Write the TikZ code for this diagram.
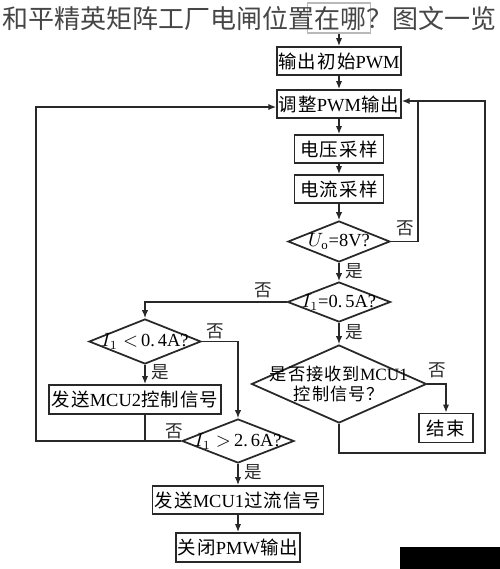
\documentclass[tikz,border=0pt]{standalone}
\usepackage{fontspec}
\setmainfont{Liberation Serif}
\newfontfamily\cjk[LetterSpace=6]{Noto Sans CJK SC}
\newfontfamily\cjkplain{Noto Sans CJK SC}
\usetikzlibrary{arrows.meta,shapes.geometric,positioning,calc}
\definecolor{inkgray}{RGB}{40,40,40}
\definecolor{titlegray}{RGB}{70,70,70}
\newcommand{\zh}[1]{{\cjk #1}}

\begin{document}
\begin{tikzpicture}[x=0.02cm,y=-0.02cm,font=\fontsize{10.5pt}{12.5pt}\selectfont,>={Latex[length=4.5pt,width=3.6pt]},
  procbox/.style={draw=inkgray,line width=1.1pt,minimum height=0.56cm,inner sep=1pt},
  decbox/.style={draw=inkgray,line width=1pt,diamond,inner sep=0pt},
  flow/.style={draw=inkgray,line width=0.8pt},
  yesno/.style={font=\fontsize{10pt}{12pt}\selectfont\cjkplain,text=inkgray}]
  \useasboundingbox (0,0) rectangle (500,569);
  % start box, mostly hidden under the title
  \node[draw=gray!55,line width=0.8pt,minimum width=1.26cm,minimum height=0.6cm] (start) at (339,18) {};
  \node[text=titlegray,font=\fontsize{14.8pt}{16pt}\selectfont\cjkplain,inner sep=0pt] (title) at (249.5,19)
    {和平精英矩阵工厂电闸位置在哪？图文一览};
  % main column
  \node[procbox,minimum width=2.38cm] (init)   at (339,61)  {\zh{输出初始}PWM};
  \node[procbox,minimum width=2.38cm] (adjust) at (339,104) {\zh{调整}PWM\zh{输出}};
  \node[procbox,minimum width=1.78cm] (vsamp)  at (339,149) {\zh{电压采样}};
  \node[procbox,minimum width=1.78cm] (isamp)  at (339,189) {\zh{电流采样}};
  \node[decbox,minimum width=2.04cm,minimum height=0.82cm,label={center:$U_{\mathrm{o}}$=8V?}] (chkU) at (339,241.5) {};
  \node[decbox,minimum width=2.06cm,minimum height=0.8cm,label={center:$I_{1}$=0.\,5A?}] (chkI) at (339,302) {};
  \node[decbox,minimum width=3.5cm,minimum height=1.56cm,
        label={[align=center,font=\fontsize{9.8pt}{11.5pt}\selectfont]center:\zh{是否接收到}MCU1\\\zh{控制信号？}}] (chkRecv) at (339,384) {};
  \node[procbox,minimum width=1.08cm,minimum height=0.58cm] (stop) at (446,428) {\zh{结束}};
  % left branch
  \node[decbox,minimum width=2.24cm,minimum height=0.9cm,label={center:$I_{1}<$\,0.\,4A?}] (chkLow) at (145,341.5) {};
  \node[procbox,minimum width=3.44cm,minimum height=0.58cm] (mcuTwo) at (135,399.5) {\zh{发送}MCU2\zh{控制信号}};
  \node[decbox,minimum width=2.24cm,minimum height=0.88cm,label={center:$I_{1}>$\,2.\,6A?}] (chkHigh) at (238,441) {};
  \node[procbox,minimum width=3.42cm] (mcuOne) at (238,500) {\zh{发送}MCU1\zh{过流信号}};
  \node[procbox,minimum width=2.42cm,minimum height=0.58cm] (pwmOff) at (238,547.5) {\zh{关闭}PMW\zh{输出}};
  % loop corners
  \coordinate (jR)    at (418,101);
  \coordinate (loopR) at (485,453);
  \coordinate (loopL) at (36,441);

  \draw[flow,->] (start) -- (init);
  \draw[flow,->] (init) -- (adjust);
  \draw[flow,->] (adjust) -- (vsamp);
  \draw[flow,->] (vsamp) -- (isamp);
  \draw[flow,->] (isamp) -- (chkU);
  \draw[flow,->] (chkU) -- node[yesno,right,pos=0.45]{是} (chkI);
  \draw[flow,->] (chkI) -- node[yesno,right,pos=0.45]{是} (chkRecv);
  \draw[flow] (chkU.east) -| (jR);
  \draw[flow,->] (chkRecv.south) |- (loopR) |- ([yshift=0.06cm]adjust.east);
  \draw[flow,->] (chkRecv.east) -| (stop.north);
  \draw[flow,->] (chkI.west) -| (chkLow.north);
  \draw[flow,->] (chkLow.east) -| (chkHigh.north);
  \draw[flow,->] (chkLow.south) -- node[yesno,right,pos=0.4]{是} (chkLow.south |- mcuTwo.north);
  \draw[flow] (chkLow.south |- mcuTwo.south) -- (chkLow.south |- chkHigh.west);
  \draw[flow,->] (chkHigh.west) -- (loopL) |- ([yshift=-0.06cm]adjust.west);
  \draw[flow,->] (chkHigh.south) -- node[yesno,right,pos=0.4]{是} (mcuOne);
  \draw[flow,->] (mcuOne) -- (pwmOff);
  % no labels
  \node[yesno] (noU)    at (405,228) {否};
  \node[yesno] (noI)    at (263,290) {否};
  \node[yesno] (noLow)  at (215,331) {否};
  \node[yesno] (noHigh) at (174,431) {否};
  \node[yesno] (noRecv) at (437,370) {否};
  % dark patch at the lower right
  \fill[black] (400,547) rectangle (500,569);
\end{tikzpicture}
\end{document}
